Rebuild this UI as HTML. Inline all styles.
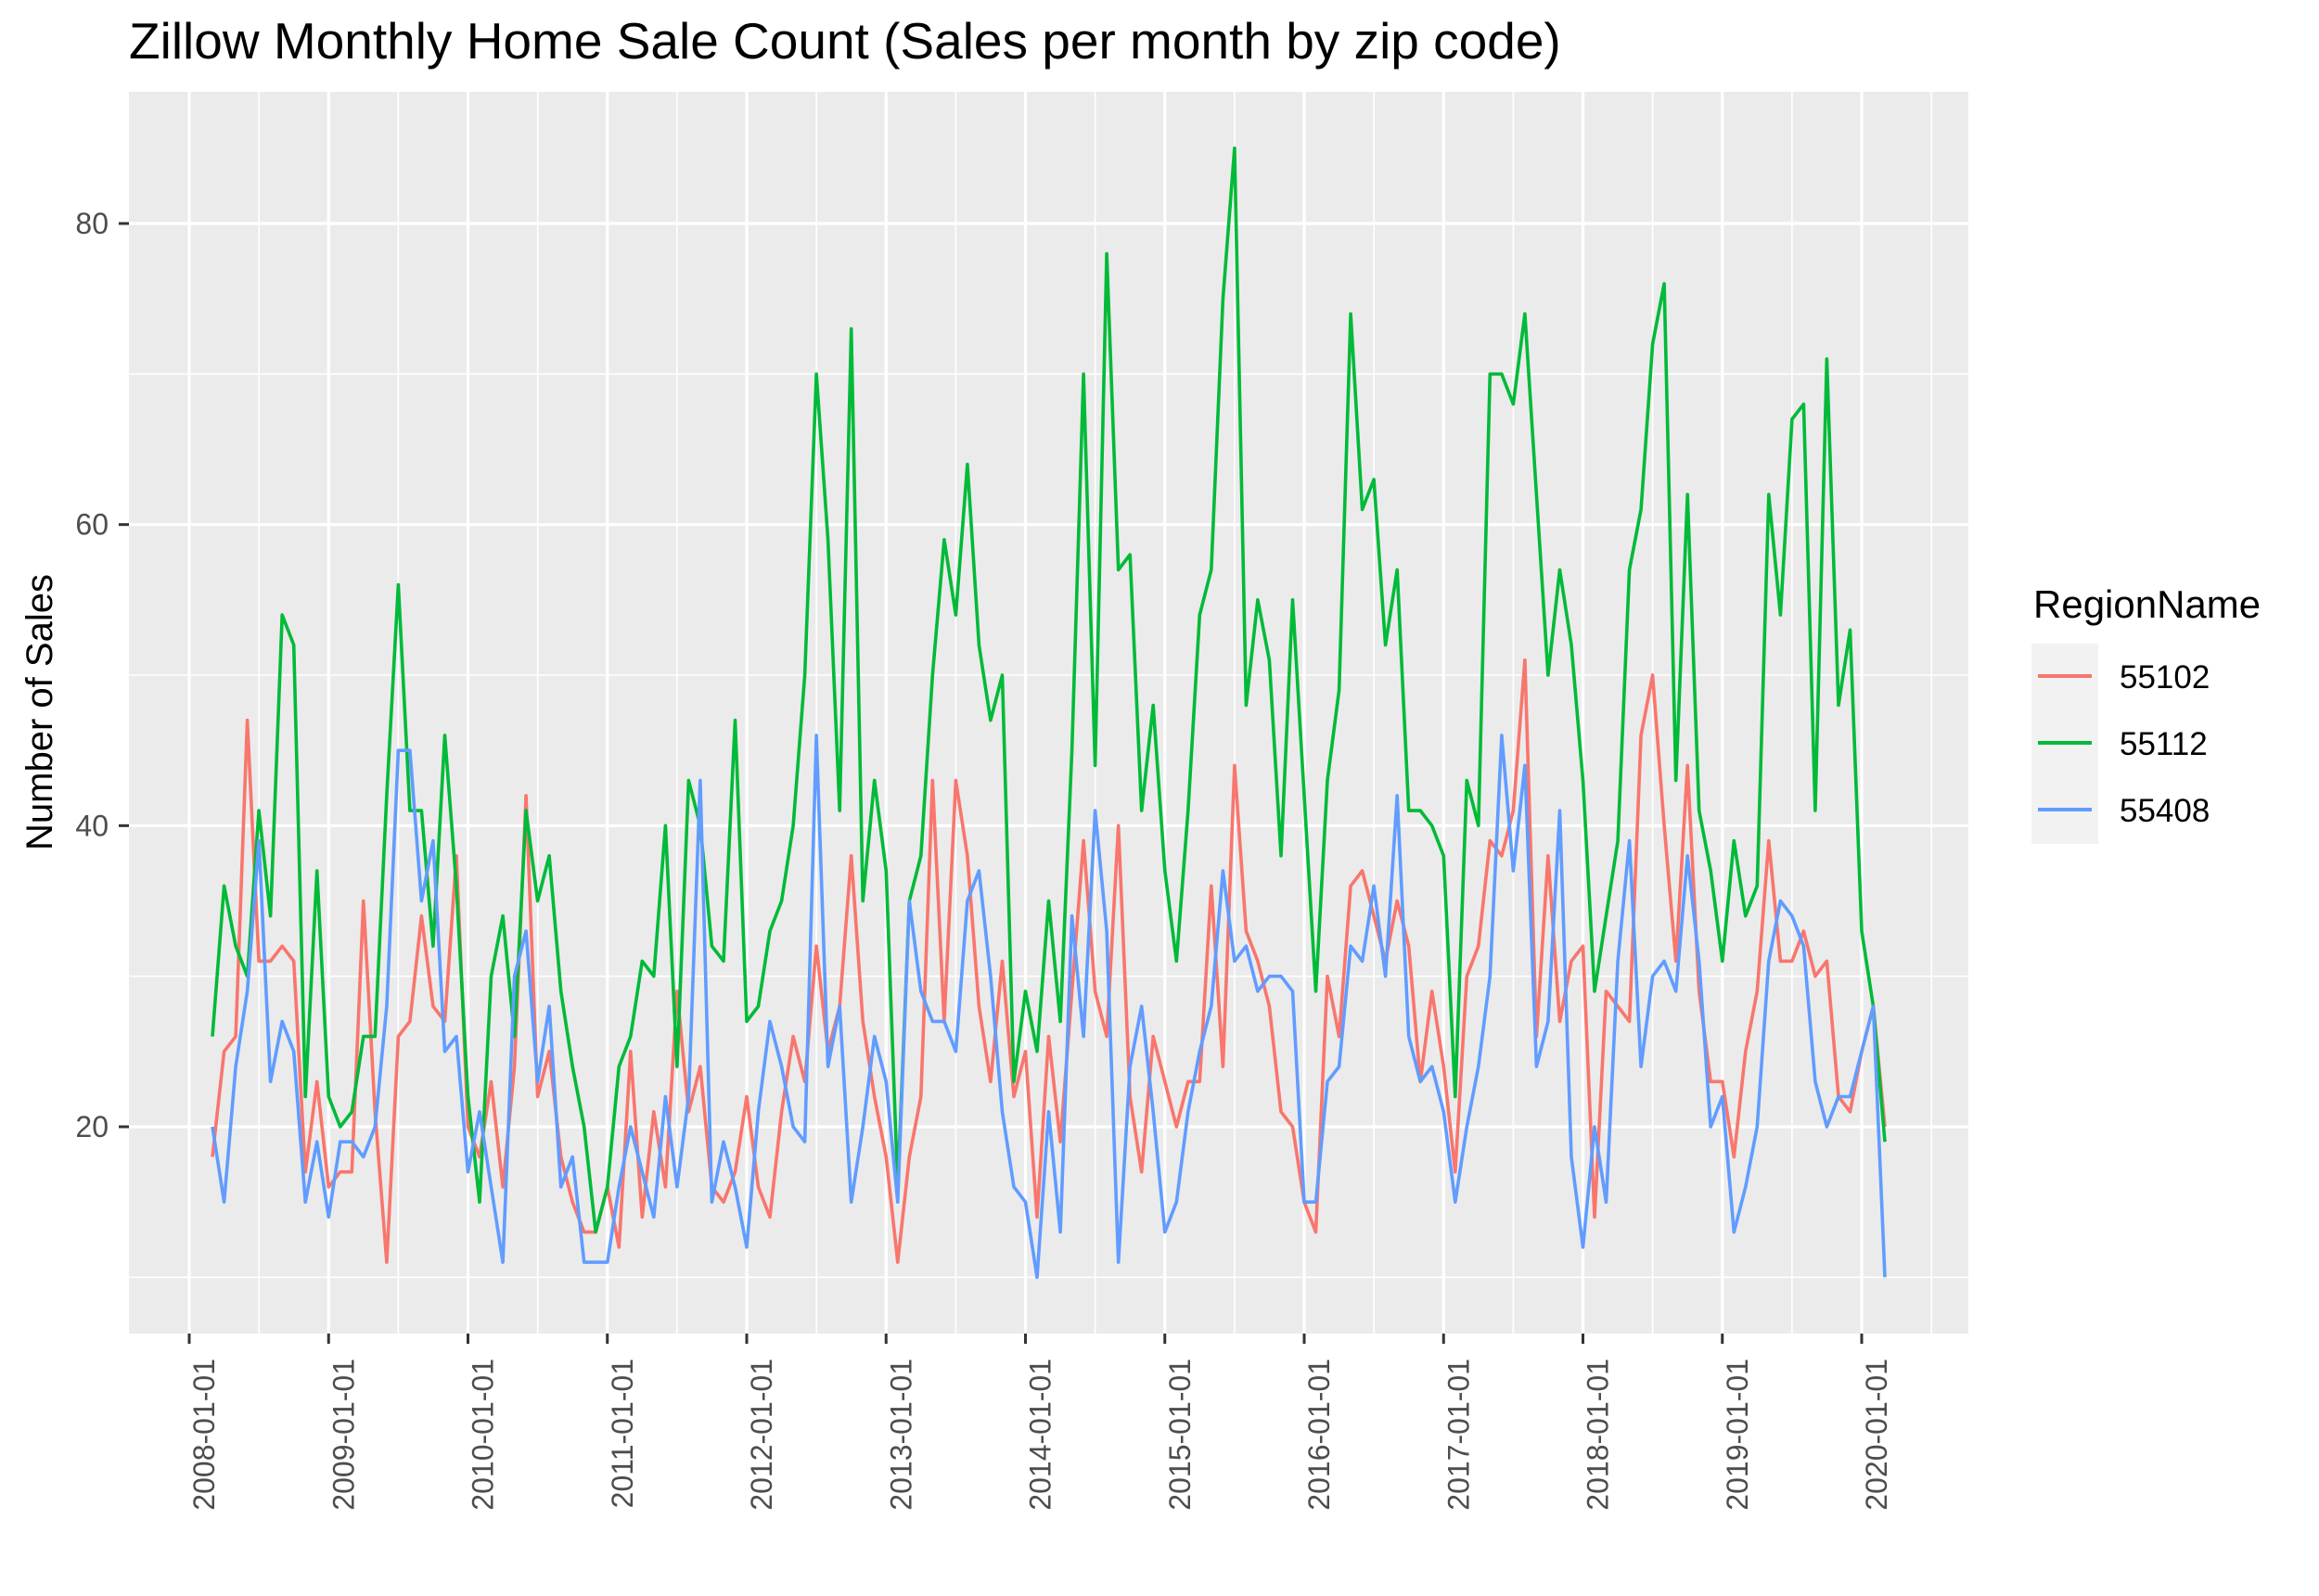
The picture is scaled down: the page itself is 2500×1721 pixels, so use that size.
<!DOCTYPE html>
<html><head><meta charset="utf-8"><style>
html,body{margin:0;padding:0;background:#fff;}
svg{display:block;font-family:"Liberation Sans",Arial,sans-serif;}
</style></head><body>
<svg id="chart" width="2500" height="1721" viewBox="0 0 2500 1721">
<text x="139" y="63" font-size="55" fill="#000">Zillow Monthly Home Sale Count (Sales per month by zip code)</text>
<rect x="139" y="99" width="1983" height="1339" fill="#ebebeb"/>
<g id="grid"></g>
<g id="series"></g>
<g id="axes"></g>
<text transform="translate(56,768) rotate(-90)" text-anchor="middle" font-size="40" fill="#000">Number of Sales</text>
<g>
<text x="2192" y="666" font-size="42" fill="#000">RegionName</text>
<rect x="2190" y="694" width="72" height="216" fill="#f2f2f2"/>
<g><line x1="2197" x2="2255" y1="729" y2="729" stroke="#F8766D" stroke-width="4"/><text x="2285" y="742" font-size="35" fill="#000">55102</text></g>
<g><line x1="2197" x2="2255" y1="801" y2="801" stroke="#00BA38" stroke-width="4"/><text x="2285" y="814" font-size="35" fill="#000">55112</text></g>
<g><line x1="2197" x2="2255" y1="873" y2="873" stroke="#619CFF" stroke-width="4"/><text x="2285" y="886" font-size="35" fill="#000">55408</text></g>
</g>
</svg>
<script>
const seriesNames = ["55102","55112","55408"];
const seriesColors = ["#F8766D","#00BA38","#619CFF"];
const startYear = 2008, startMonth = 2;
const yTicks = [20,40,60,80];
const xTickYears = [2008,2009,2010,2011,2012,2013,2014,2015,2016,2017,2018,2019,2020];
const sales55102 = [18,25,26,47,31,31,32,31,17,23,16,17,17,35,21,11,26,27,34,28,27,38,20,18,23,16,24,42,22,25,18,15,13,13,16,12,25,14,21,16,29,21,24,16,15,17,22,16,
14,21,26,23,32,25,28,38,27,22,18,11,18,22,43,27,43,38,28,23,31,22,25,14,26,19,29,39,29,26,40,22,17,26,23,20,23,23,36,24,44,33,31,28,21,20,
15,13,30,26,36,37,34,31,35,32,23,29,24,17,30,32,39,38,41,51,26,38,27,31,32,14,29,28,27,46,50,40,31,44,29,23,23,18,25,29,39,31,31,33,30,31,22,21,25,28,20];
const sales55112 = [26,36,32,30,41,34,54,52,22,37,22,20,21,26,26,42,56,41,41,32,46,36,22,15,30,34,26,41,35,38,29,24,20,13,16,24,26,31,30,40,24,43,40,32,31,47,27,28,
33,35,40,50,70,59,41,73,35,43,37,16,35,38,50,59,54,64,52,47,50,23,29,25,35,27,45,70,44,78,57,58,41,48,37,31,41,54,57,75,85,48,55,51,38,55,
42,29,43,49,74,61,63,52,57,41,41,40,38,22,43,40,70,70,68,74,62,50,57,52,43,29,34,39,57,61,72,76,43,62,41,37,31,39,34,36,62,54,67,68,41,71,48,53,33,28,19];
const sales55408 = [20,15,24,29,39,23,27,25,15,19,14,19,19,18,20,28,45,45,35,39,25,26,17,21,16,11,30,33,23,28,16,18,11,11,11,16,20,17,14,22,16,22,43,15,19,16,12,21,
27,24,20,19,46,24,28,15,20,26,23,15,35,29,27,27,25,35,37,30,21,16,15,10,21,13,34,26,41,33,11,24,28,21,13,15,21,25,28,37,31,32,29,30,30,29,
15,15,23,24,32,31,36,30,42,26,23,24,21,15,20,24,30,46,37,44,24,27,41,18,12,20,15,31,39,24,30,31,29,38,31,20,22,13,16,20,31,35,34,32,23,20,22,22,25,28,10];
const allSeries = [sales55102, sales55112, sales55408];

const NS="http://www.w3.org/2000/svg";
const PL=139, PR=2122, PT=99, PB=1438;
const X0=204, PER_YEAR=150.25;
function xScale(yearFrac){ return X0 + (yearFrac-2008)*PER_YEAR; }
function yScale(v){ return 1215 - (v-20)*(974/60); }
function mk(tag, attrs, parent){ const e=document.createElementNS(NS,tag); for(const k in attrs) e.setAttribute(k,attrs[k]); parent.appendChild(e); return e; }

const grid=document.getElementById('grid');
for(let v=10; v<=80; v+=10){
  const major = v%20===0;
  const l=mk('line',{x1:PL,x2:PR,y1:yScale(v),y2:yScale(v),stroke:'#fff','stroke-width':major?3.2:1.6},grid);
  
  
}
for(let y=2007.5; y<=2020.5; y+=0.5){
  const major = Number.isInteger(y);
  const l=mk('line',{x1:xScale(y),x2:xScale(y),y1:PT,y2:PB,stroke:'#fff','stroke-width':major?3.2:1.6},grid);
  
  
}

const sg=document.getElementById('series');
allSeries.forEach((data,si)=>{
  const pts=data.map((v,i)=>{
    const yf = startYear + (startMonth + i)/12;
    return xScale(yf).toFixed(1)+','+yScale(v).toFixed(1);
  }).join(' ');
  const p=mk('polyline',{points:pts,fill:'none',stroke:seriesColors[si],'stroke-width':3.6,'stroke-linejoin':'round'},sg);
  
  
});

const ax=document.getElementById('axes');
yTicks.forEach(v=>{
  const t=mk('line',{x1:128,x2:139,y1:yScale(v),y2:yScale(v),stroke:'#333','stroke-width':3},ax);
  
  
  const tx=mk('text',{x:117,y:yScale(v)+11,'text-anchor':'end','font-size':32,fill:'#4d4d4d'},ax);
  tx.textContent=String(v);
  
  
});
xTickYears.forEach(yr=>{
  const x=xScale(yr);
  const t=mk('line',{x1:x,x2:x,y1:1438,y2:1449,stroke:'#333','stroke-width':3},ax);
  
  
  const tx=mk('text',{transform:'translate('+(x+27)+',1465) rotate(-90)','text-anchor':'end','font-size':32,fill:'#4d4d4d'},ax);
  tx.textContent=yr+'-01-01';
  
  
});
</script>
</body></html>
